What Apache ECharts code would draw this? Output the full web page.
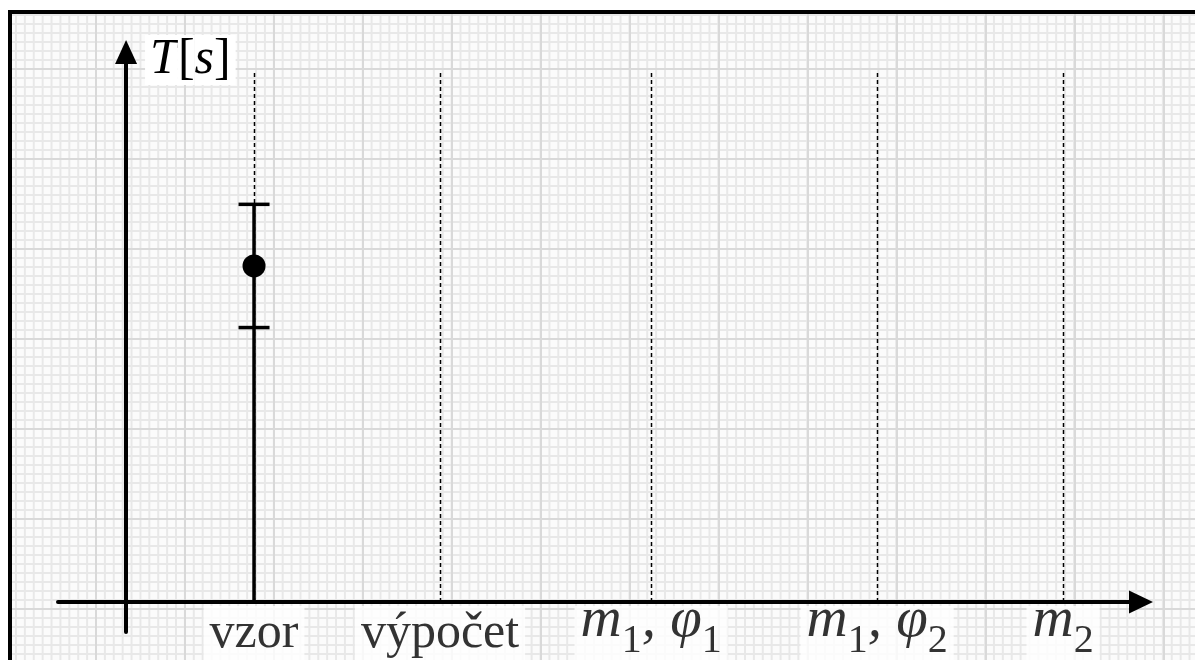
<!DOCTYPE html>
<html>
<head>
<meta charset="utf-8">
<script src="https://cdn.jsdelivr.net/npm/echarts@6/dist/echarts.min.js"></script>
<style>
  html, body { margin: 0; padding: 0; width: 1195px; height: 660px; overflow: hidden; background: #ffffff; }
  #paper {
    position: absolute; left: 8px; top: 10px; width: 1200px; height: 670px;
    border-left: 4px solid #000; border-top: 4px solid #000;
    background-color: #fbfbfb;
    background-image:
      linear-gradient(to right, #d9d9d9 0, #d9d9d9 2px, transparent 2px),
      linear-gradient(to bottom, #d9d9d9 0, #d9d9d9 2px, transparent 2px),
      linear-gradient(to right, #e8e8e8 0, #e8e8e8 2px, transparent 2px),
      linear-gradient(to bottom, #e8e8e8 0, #e8e8e8 2px, transparent 2px);
    background-size: 89px 100%, 100% 90px, 8.9px 100%, 100% 9px;
    background-position: 83px 0, 0 54px, 83px 0, 0 54px;
  }
  #chart { position: absolute; left: 0; top: 0; width: 1195px; height: 660px; }
</style>
</head>
<body>
<div id="paper"></div>
<div id="chart"></div>
<script>
// ---- data ----
const categories = ['vzor', 'výpočet', 'm1,φ1', 'm1,φ2', 'm2'];
const categoryX = [0.688, 1.688, 2.823, 4.038, 5.038];   // slot of each category on the x axis
const tickLabels = [
  '{r|vzor}',
  '{r|výpočet}',
  '{m|m}{s|1}{m|, φ}{s|1}',
  '{m|m}{s|1}{m|, φ}{s|2}',
  '{m|m}{s|2}'
];
const measuredT = [6.0];        // value for 'vzor'
const measuredErr = [1.1];      // +/- error
const guideTop = 9.45;          // top of the dotted guide lines
const xRange = [-0.366, 5.457];
const yRange = [-0.536, 9.82];
const yAxisName = '{g|}{T|T}{b|[}{s|s}{e|]}';

const chart = echarts.init(document.getElementById('chart'), null, { renderer: 'canvas' });

const serif = 'Liberation Serif';
const labelRich = {
  r: { fontFamily: serif, fontSize: 50, color: '#000', lineHeight: 56, verticalAlign: 'middle' },
  m: { fontFamily: serif, fontStyle: 'italic', fontSize: 57, color: '#000', lineHeight: 30, verticalAlign: 'middle' },
  s: { fontFamily: serif, fontSize: 40, color: '#000', lineHeight: 30, verticalAlign: 'middle', padding: [42, 0, 0, 0] }
};

const option = {
  backgroundColor: 'transparent',
  animation: false,
  grid: { left: 58, right: 54, top: 52, bottom: 28, containLabel: false },
  xAxis: {
    type: 'value', min: xRange[0], max: xRange[1], z: 10,
    axisLine: { show: true, onZero: true, symbol: ['none', 'triangle'], symbolSize: [23, 24],
      lineStyle: { color: '#000', width: 4 } },
    axisTick: { show: false }, axisLabel: { show: false }, splitLine: { show: false }
  },
  yAxis: {
    type: 'value', min: yRange[0], max: yRange[1], z: 10,
    name: yAxisName, nameLocation: 'end', nameGap: -8,
    nameTextStyle: {
      align: 'left', verticalAlign: 'middle',
      rich: {
        g: { width: 19, lineHeight: 60 },
        T: { fontFamily: serif, fontStyle: 'italic', fontSize: 50, color: '#000', backgroundColor: '#fff', lineHeight: 60, padding: [0, 0, 0, 5] },
        b: { fontFamily: serif, fontSize: 50, color: '#000', backgroundColor: '#fff', lineHeight: 60 },
        s: { fontFamily: serif, fontStyle: 'italic', fontSize: 50, color: '#000', backgroundColor: '#fff', lineHeight: 60 },
        e: { fontFamily: serif, fontSize: 50, color: '#000', backgroundColor: '#fff', lineHeight: 60, padding: [0, 5, 0, 0] }
      }
    },
    axisLine: { show: true, onZero: true, symbol: ['none', 'triangle'], symbolSize: [22, 24],
      lineStyle: { color: '#000', width: 4 } },
    axisTick: { show: false }, axisLabel: { show: false }, splitLine: { show: false }
  },
  series: [
    {
      type: 'custom', name: 'guides', z: 1,
      data: categoryX.map(x => [x, guideTop]),
      renderItem: function (params, api) {
        const x = api.value(0);
        const p0 = api.coord([x, 0]);
        const p1 = api.coord([x, api.value(1)]);
        return {
          type: 'line',
          shape: { x1: Math.round(p0[0]) + 0.5, y1: p0[1], x2: Math.round(p1[0]) + 0.5, y2: p1[1] },
          style: { stroke: '#000', lineWidth: 1.5, lineDash: [4, 3] }
        };
      }
    },
    {
      type: 'custom', name: 'T', z: 3,
      data: measuredT.map((t, i) => [categoryX[i], t, measuredErr[i]]),
      renderItem: function (params, api) {
        const x = api.value(0), t = api.value(1), e = api.value(2);
        const top = api.coord([x, t + e]);
        const bot = api.coord([x, t - e]);
        const mid = api.coord([x, t]);
        const base = api.coord([x, 0]);
        const cap = 15.5;
        const st = { stroke: '#000', lineWidth: 3.5 };
        return {
          type: 'group',
          children: [
            { type: 'line', shape: { x1: top[0], y1: top[1], x2: base[0], y2: base[1] }, style: st },
            { type: 'line', shape: { x1: top[0] - cap, y1: top[1], x2: top[0] + cap, y2: top[1] }, style: st },
            { type: 'line', shape: { x1: bot[0] - cap, y1: bot[1], x2: bot[0] + cap, y2: bot[1] }, style: st },
            { type: 'circle', shape: { cx: mid[0], cy: mid[1], r: 11.5 }, style: { fill: '#000' } }
          ]
        };
      }
    },
    {
      type: 'scatter', name: 'labels', z: 4, symbolSize: 0, silent: true,
      data: categoryX.map((x, i) => ({ value: [x, 0], name: categories[i] })),
      label: {
        show: true, position: 'bottom', distance: 4,
        formatter: function (p) { return tickLabels[p.dataIndex]; },
        backgroundColor: '#fff', padding: [0, 6, 40, 6],
        rich: labelRich
      }
    }
  ]
};
chart.setOption(option);
</script>
</body>
</html>
